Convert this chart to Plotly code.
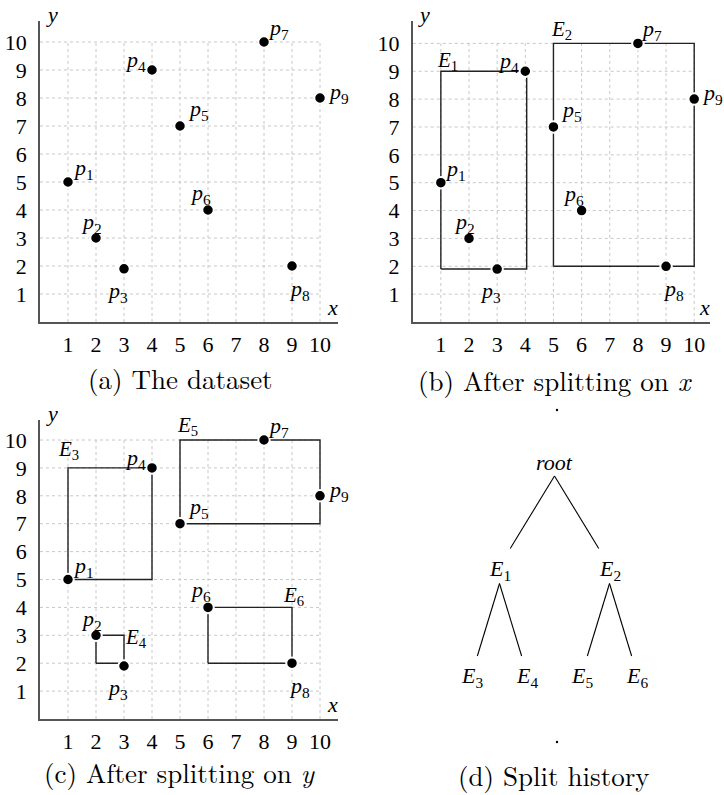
import plotly.graph_objects as go

W, H = 724, 795

# ---------------- data ----------------
point_ids = ["1", "2", "3", "4", "5", "6", "7", "8", "9"]
point_x = [1, 2, 3, 4, 5, 6, 8, 9, 10]
point_y = [5, 3, 1.9, 9, 7, 4, 10, 2, 8]

tick_vals = [1, 2, 3, 4, 5, 6, 7, 8, 9, 10]
tick_text = ["1", "2", "3", "4", "5", "6", "7", "8", "9", "10"]

# regions after splitting on x (panel b)
b_ids = ["1", "2"]
b_x0 = [1, 5]
b_x1 = [4.05, 10]
b_y0 = [1.9, 2]
b_y1 = [9, 10]

# regions after splitting on y (panel c)
c_ids = ["3", "4", "5", "6"]
c_x0 = [1, 2, 5, 6]
c_x1 = [4, 3, 10, 9]
c_y0 = [5, 2, 7, 2]
c_y1 = [9, 3, 10, 4]

# split history tree
tree_nodes = ["root", "E1", "E2", "E3", "E4", "E5", "E6"]
tree_parent = [None, "root", "root", "E1", "E1", "E2", "E2"]
tree_level = [0, 1, 1, 2, 2, 2, 2]

captions = ["(a) The dataset", "(b) After splitting on <i>x</i>",
            "(c) After splitting on <i>y</i>", "(d) Split history"]

# ---------------- styles ----------------
SERIF = "Liberation Serif"
CAP_FONT = dict(family="Latin Modern Roman", size=27, color="black")
# label offsets for p_i (pixels, dx right, dy down)
p_off = [(15, -13), (-5, -15), (-7, 23), (-17, -9), (18, -16), (-8, -16), (14, -13), (7, 24), (18, -5)]
b_corner = [("x0", "y1"), ("x0", "y1")]
b_off = [(7, -10), (8, -13)]
c_corner = [("x0", "y1"), ("x1", "y1"), ("x0", "y1"), ("x1", "y1")]
c_off = [(0, -18), (12, 3), (7, -14), (1, -11)]

fig = go.Figure()


def dom(px0, px1, ptop, pbot):
    return [px0 / W, px1 / W], [1 - pbot / H, 1 - ptop / H]


panels = [
    # (px0, px1, ptop, pbot, px_per_unit_x, px_per_unit_y)
    (40, 338, 21, 322, 28.0, 28.0),
    (412.7, 710, 21, 322, 28.15, 27.86),
    (40, 338, 420, 719, 28.0, 27.9),
]

layout_axes = {}
for i, (px0, px1, pt, pb, sx, sy) in enumerate(panels, start=1):
    xd, yd = dom(px0, px1, pt, pb)
    sfx = "" if i == 1 else str(i)
    layout_axes["xaxis" + sfx] = dict(
        domain=xd, range=[0, (px1 - px0) / sx], anchor="y" + sfx,
        showline=True, linecolor="#555", linewidth=1.6, showgrid=False, zeroline=False,
        tickvals=tick_vals, ticktext=tick_text, ticks="", ticklabelstandoff=2,
        tickfont=dict(family=SERIF, size=22, color="black"), fixedrange=True)
    layout_axes["yaxis" + sfx] = dict(
        domain=yd, range=[0, (pb - pt) / sy], anchor="x" + sfx,
        showline=True, linecolor="#555", linewidth=1.6, showgrid=False, zeroline=False,
        tickvals=tick_vals, ticktext=tick_text, ticks="", ticklabelstandoff=7,
        tickfont=dict(family=SERIF, size=22, color="black"), fixedrange=True)

# tree axes
LEAF_SP = 55.0
LEAF0 = 472.0
LEV_SP = 107.5
LEV0 = 462.0
layout_axes["xaxis4"] = dict(domain=[362 / W, 1.0],
                             range=[-(LEAF0 - 362) / LEAF_SP, (W - LEAF0) / LEAF_SP],
                             visible=False, anchor="y4", fixedrange=True)
layout_axes["yaxis4"] = dict(domain=[0.0, 1 - 400 / H],
                             range=[(H - LEV0) / LEV_SP, (400 - LEV0) / LEV_SP],
                             visible=False, anchor="x4", fixedrange=True)

annotations = []

for i in range(1, 4):
    sfx = "" if i == 1 else str(i)
    xr, yr = "x" + sfx, "y" + sfx
    # dotted grid
    gx, gy = [], []
    for v in tick_vals:
        gx += [v, v, None]
        gy += [0, max(tick_vals), None]
        gx += [0, max(tick_vals), None]
        gy += [v, v, None]
    fig.add_trace(go.Scatter(x=gx, y=gy, mode="lines", xaxis=xr, yaxis=yr,
                             line=dict(color="#c8c8c8", width=1, dash="dot"),
                             hoverinfo="skip", showlegend=False))

    # rectangles
    if i in (2, 3):
        ids, x0s, x1s, y0s, y1s, corners, offs = (
            (b_ids, b_x0, b_x1, b_y0, b_y1, b_corner, b_off) if i == 2 else
            (c_ids, c_x0, c_x1, c_y0, c_y1, c_corner, c_off))
        rx, ry = [], []
        for k in range(len(ids)):
            rx += [x0s[k], x1s[k], x1s[k], x0s[k], x0s[k], None]
            ry += [y0s[k], y0s[k], y1s[k], y1s[k], y0s[k], None]
            vals = {"x0": x0s[k], "x1": x1s[k], "y0": y0s[k], "y1": y1s[k]}
            annotations.append(dict(
                x=vals[corners[k][0]], y=vals[corners[k][1]], xref=xr, yref=yr,
                text="<i>E</i><sub>" + ids[k] + "</sub>", showarrow=False,
                xanchor="center", yanchor="middle",
                xshift=offs[k][0], yshift=-offs[k][1],
                font=dict(family=SERIF, size=21, color="black")))
        fig.add_trace(go.Scatter(x=rx, y=ry, mode="lines", xaxis=xr, yaxis=yr,
                                 line=dict(color="#222", width=1.4),
                                 hoverinfo="skip", showlegend=False))

    # points
    fig.add_trace(go.Scatter(x=point_x, y=point_y, mode="markers", xaxis=xr, yaxis=yr,
                             marker=dict(color="black", size=11.5,
                                         line=dict(color="white", width=2)),
                             hoverinfo="skip", showlegend=False))
    for k, pid in enumerate(point_ids):
        annotations.append(dict(
            x=point_x[k], y=point_y[k], xref=xr, yref=yr,
            text="<i>p</i><sub>" + pid + "</sub>", showarrow=False,
            xanchor="center", yanchor="middle",
            xshift=p_off[k][0], yshift=-p_off[k][1],
            font=dict(family=SERIF, size=22, color="black")))

# axis name labels (pixel positions)
axis_name_pos = [((52, 15), (332, 307)), ((424, 15), (704, 307)), ((52, 413), (332, 704))]
for (ypos, xpos) in axis_name_pos:
    for txt, (px, py) in (("y", ypos), ("x", xpos)):
        annotations.append(dict(x=px / W, y=1 - py / H, xref="paper", yref="paper",
                                xanchor="center", yanchor="middle",
                                text="<i>" + txt + "</i>", showarrow=False,
                                font=dict(family=SERIF, size=22, color="black")))

# ---------------- tree ----------------
leaves = [n for n, l in zip(tree_nodes, tree_level) if l == max(tree_level)]
node_x = {n: float(j) for j, n in enumerate(leaves)}
for lev in range(max(tree_level) - 1, -1, -1):
    for n, l in zip(tree_nodes, tree_level):
        if l == lev:
            kids = [c for c, p in zip(tree_nodes, tree_parent) if p == n]
            node_x[n] = sum(node_x[c] for c in kids) / len(kids)
node_y = {n: float(l) for n, l in zip(tree_nodes, tree_level)}

A_GAP = 14 / LEV_SP
B_GAP = 21 / LEV_SP
ex, ey = [], []
for n, p in zip(tree_nodes, tree_parent):
    if p is None:
        continue
    xp, yp, xc, yc = node_x[p], node_y[p], node_x[n], node_y[n]
    ex += [xp, xc + (xp - xc) * B_GAP, None]
    ey += [yp + A_GAP, yc - B_GAP, None]
fig.add_trace(go.Scatter(x=ex, y=ey, mode="lines", xaxis="x4", yaxis="y4",
                         line=dict(color="black", width=1.1),
                         hoverinfo="skip", showlegend=False))
for n in tree_nodes:
    txt = "<i>root</i>" if n == "root" else "<i>E</i><sub>" + n[1:] + "</sub>"
    annotations.append(dict(x=node_x[n], y=node_y[n], xref="x4", yref="y4",
                            xanchor="center", yanchor="middle",
                            text=txt, showarrow=False,
                            font=dict(family=SERIF, size=22, color="black")))

# captions
cap_pos = [(180, 378), (555, 380), (179, 772), (554, 775)]
for txt, (px, py) in zip(captions, cap_pos):
    annotations.append(dict(x=px / W, y=1 - py / H, xref="paper", yref="paper",
                            xanchor="center", yanchor="middle",
                            text=txt, showarrow=False, font=CAP_FONT))

shapes = []
for (px, py) in [(557, 410), (557, 742)]:
    shapes.append(dict(type="circle", xref="paper", yref="paper",
                       x0=(px - 1.2) / W, x1=(px + 1.2) / W,
                       y0=1 - (py + 1.2) / H, y1=1 - (py - 1.2) / H,
                       fillcolor="black", line=dict(width=0)))

fig.update_layout(width=W, height=H, margin=dict(l=0, r=0, t=0, b=0),
                  paper_bgcolor="white", plot_bgcolor="white",
                  annotations=annotations, shapes=shapes, showlegend=False,
                  **layout_axes)

fig.write_html("out.html", config={"displayModeBar": False},
               post_script="document.body.style.margin='0px';document.body.style.overflow='hidden';")
